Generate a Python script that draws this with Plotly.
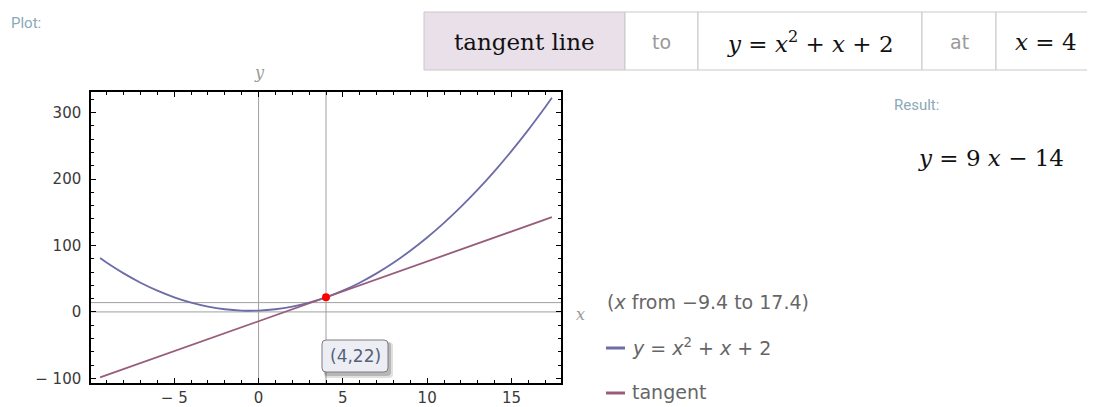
import plotly.graph_objects as go

# curve y = x^2 + x + 2
curve_x = [-9.4, -9, -8, -7, -6, -5, -4, -3, -2, -1, 0, 1, 2, 3, 4, 5,
           6, 7, 8, 9, 10, 11, 12, 13, 14, 15, 16, 17, 17.4]
curve_y = [81, 74, 58, 44, 32, 22, 14, 8, 4, 2, 2, 4, 8, 14, 22, 32,
           44, 58, 74, 92, 112, 134, 158, 184, 212, 242, 274, 308, 322.2]

# tangent line y = 9x - 14
tangent_x = [-9.4, 17.4]
tangent_y = [-98.6, 142.6]

point_x = [4]
point_y = [22]

mesh_x = [0, 4]
mesh_y = [0, 14]

x_ticks = [-5, 0, 5, 10, 15]
x_labels = ['\u2212 5', '0', '5', '10', '15']
y_ticks = [-100, 0, 100, 200, 300]
y_labels = ['\u2212 100', '0', '100', '200', '300']

header_cells = ['tangent line', 'to', '<i>y</i> = <i>x</i><sup>2</sup> + <i>x</i> + 2', 'at', '<i>x</i> = 4']

# plot area in page pixels (page is offset 8px by the body margin)
OFF = 8
L, R, T, B = 91, 561, 92, 383
PW, PH = 1095, 407


def px(x):
    return (x - L) / (R - L)


def py(y):
    return (B - y) / (B - T)


blue = 'rgb(108,108,168)'
maroon = 'rgb(152,92,124)'
serif = 'DejaVu Serif'
sans = 'DejaVu Sans'
light = 'Roboto'

fig = go.Figure()
fig.add_trace(go.Scatter(x=curve_x, y=curve_y, mode='lines', line_shape='spline',
                         line=dict(color=blue, width=1.8), hoverinfo='skip'))
fig.add_trace(go.Scatter(x=tangent_x, y=tangent_y, mode='lines',
                         line=dict(color=maroon, width=1.8), hoverinfo='skip'))
fig.add_trace(go.Scatter(x=point_x, y=point_y, mode='markers',
                         marker=dict(color='red', size=8)))

shapes = []
for v in mesh_x:
    shapes.append(dict(type='line', xref='x', yref='paper', x0=v, x1=v, y0=0, y1=1,
                       line=dict(color='#a0a0a0', width=1), layer='below'))
for v in mesh_y:
    shapes.append(dict(type='line', xref='paper', yref='y', x0=0, x1=1, y0=v, y1=v,
                       line=dict(color='#a0a0a0', width=1), layer='below'))

# input header boxes
edges = [424, 625, 698, 922, 996, 1100]
for i in range(len(header_cells)):
    shapes.append(dict(type='rect', xref='paper', yref='paper',
                       x0=px(edges[i]), x1=px(edges[i + 1]), y0=py(70), y1=py(12),
                       fillcolor='#e9e0ea' if i == 0 else 'white',
                       line=dict(color='#c8c8c8', width=1)))


def rounded(x0, y0, x1, y1, r):
    a, b, c, d = px(x0), px(x1), py(y0), py(y1)
    rx, ry = r / (R - L), r / (B - T)
    return (f'M {a + rx},{c} L {b - rx},{c} Q {b},{c} {b},{c - ry} '
            f'L {b},{d + ry} Q {b},{d} {b - rx},{d} L {a + rx},{d} '
            f'Q {a},{d} {a},{d + ry} L {a},{c - ry} Q {a},{c} {a + rx},{c} Z')


# tooltip box with soft shadow
shapes.append(dict(type='path', xref='paper', yref='paper', path=rounded(324, 342, 393, 378, 4),
                   fillcolor='rgba(0,0,0,0.12)', line=dict(width=0)))
shapes.append(dict(type='path', xref='paper', yref='paper', path=rounded(324, 342, 391, 376, 4),
                   fillcolor='rgba(0,0,0,0.18)', line=dict(width=0)))
shapes.append(dict(type='path', xref='paper', yref='paper', path=rounded(322, 340, 388, 372, 4),
                   fillcolor='#eceef3', line=dict(color='#7d7d85', width=1)))

# legend swatches
shapes.append(dict(type='line', xref='paper', yref='paper', x0=px(606), x1=px(625),
                   y0=py(348), y1=py(348), line=dict(color=blue, width=3)))
shapes.append(dict(type='line', xref='paper', yref='paper', x0=px(606), x1=px(625),
                   y0=py(393), y1=py(393), line=dict(color=maroon, width=3)))

ann = []


def text(x, y, s, size, color, family, anchor='left'):
    ann.append(dict(x=px(x), y=py(y), xref='paper', yref='paper', text=s,
                    showarrow=False, xanchor=anchor, yanchor='middle',
                    font=dict(size=size, color=color, family=family)))


text(9, 23, 'Plot:', 15, '#8aa8b8', light)
text(892, 105, 'Result:', 15, '#8aa8b8', light)
text(991, 158, '<i>y</i> = 9 <i>x</i> \u2212 14', 23, '#111', serif, 'center')
centers = [(edges[i] + min(edges[i + 1], 1095)) / 2 for i in range(len(header_cells))]
for i, s in enumerate(header_cells):
    grey = i in (1, 3)
    text(centers[i], 42, s, 19 if grey else 23, '#999' if grey else '#111',
         sans if grey else serif, 'center')
text(259, 72, '<i>y</i>', 16, '#999', serif, 'center')
text(580, 314, '<i>x</i>', 16, '#999', serif, 'center')
text(605, 302, '(<i>x</i> from \u22129.4 to 17.4)', 19, '#666', sans)
text(630, 347, '<i>y</i> = <i>x</i><sup>2</sup> + <i>x</i> + 2', 19, '#666', sans)
text(630, 392, 'tangent', 19, '#666', sans)
text(355, 356, '(4,22)', 17, '#55607a', sans, 'center')

axis = dict(showgrid=False, zeroline=False, showline=True, linecolor='black', linewidth=1.5,
            mirror='ticks', ticks='inside', ticklen=5, tickcolor='black', tickwidth=1,
            automargin=False, tickfont=dict(family=sans, size=15, color='#3a3a3a'))

fig.update_layout(
    width=PW - OFF, height=PH - OFF,
    margin=dict(l=L - OFF, r=PW - R, t=T - OFF, b=PH - B),
    paper_bgcolor='white', plot_bgcolor='white',
    showlegend=False,
    shapes=shapes, annotations=ann,
    xaxis=dict(axis, range=[-9.94, 17.94], tickvals=x_ticks, ticktext=x_labels,
               ticklabelstandoff=0,
               minor=dict(ticks='inside', ticklen=3, dtick=1, tickcolor='black')),
    yaxis=dict(axis, range=[-107, 331], tickvals=y_ticks, ticktext=y_labels,
               ticklabelstandoff=5,
               minor=dict(ticks='inside', ticklen=3, dtick=20, tickcolor='black')),
)

fig.write_html('out.html')
